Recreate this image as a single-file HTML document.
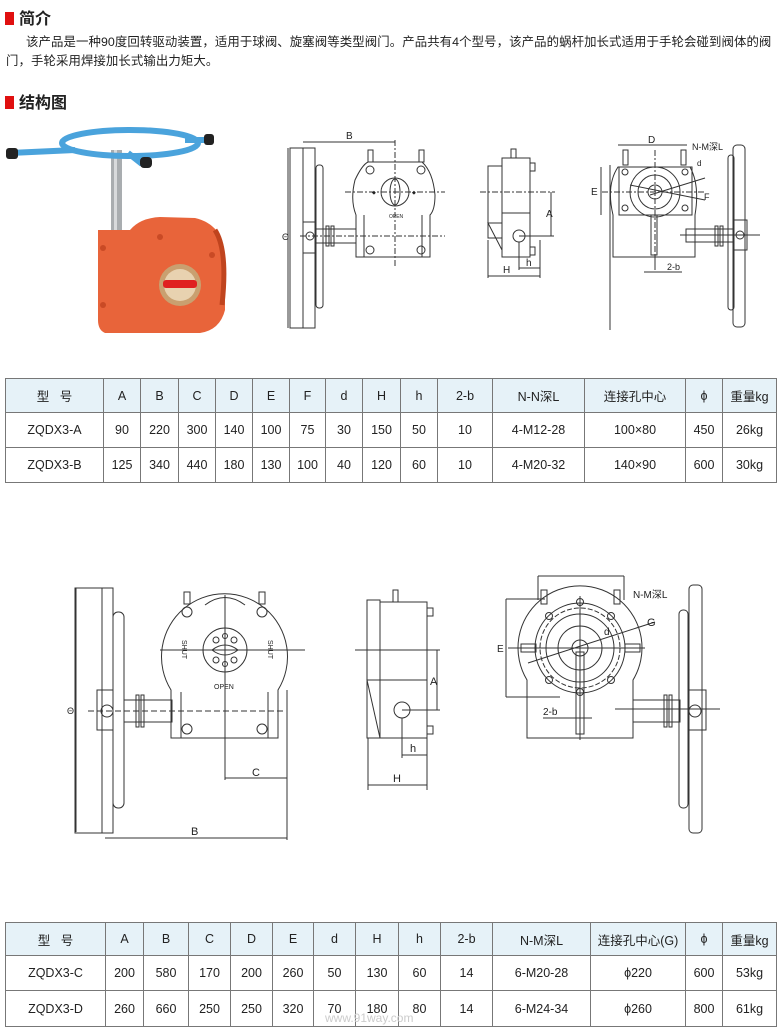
<!DOCTYPE html>
<html><head><meta charset="utf-8"><style>
body{margin:0;background:#fff;width:780px;height:1030px;overflow:hidden;position:relative;font-family:"Liberation Sans","Noto Sans CJK SC",sans-serif;color:#222}
.h{position:absolute;left:5px;font-size:16px;font-weight:bold;}
.h i{display:inline-block;width:9px;height:13px;background:#e01010;margin-right:5px;vertical-align:-1px}
.p{position:absolute;left:6px;top:33px;width:772px;font-size:12.4px;line-height:19px;text-indent:20px;letter-spacing:0.1px}
table{position:absolute;border-collapse:collapse;font-size:12.5px;text-align:center;table-layout:fixed}
td{border:1px solid #777;padding:0;}
tr.hd td{background:#e6f2f8}
svg{position:absolute;left:0;top:0}
</style></head><body>
<div class="h" style="top:5px"><i></i>简介</div>
<div class="p">该产品是一种90度回转驱动装置，适用于球阀、旋塞阀等类型阀门。产品共有4个型号，该产品的蜗杆加长式适用于手轮会碰到阀体的阀门，手轮采用焊接加长式输出力矩大。</div>
<div class="h" style="top:89px"><i></i>结构图</div>

<table style="left:5px;top:378px;width:771px">
<colgroup><col style="width:98px"><col style="width:37px"><col style="width:38px"><col style="width:37px"><col style="width:37px"><col style="width:37px"><col style="width:36px"><col style="width:37px"><col style="width:38px"><col style="width:37px"><col style="width:55px"><col style="width:92px"><col style="width:101px"><col style="width:37px"><col style="width:54px"></colgroup>
<tr class="hd" style="height:34px"><td>型&nbsp;&nbsp;&nbsp;号</td><td>A</td><td>B</td><td>C</td><td>D</td><td>E</td><td>F</td><td>d</td><td>H</td><td>h</td><td>2-b</td><td>N-N深L</td><td>连接孔中心</td><td>ϕ</td><td>重量kg</td></tr>
<tr style="height:35px"><td>ZQDX3-A</td><td>90</td><td>220</td><td>300</td><td>140</td><td>100</td><td>75</td><td>30</td><td>150</td><td>50</td><td>10</td><td>4-M12-28</td><td>100×80</td><td>450</td><td>26kg</td></tr>
<tr style="height:35px"><td>ZQDX3-B</td><td>125</td><td>340</td><td>440</td><td>180</td><td>130</td><td>100</td><td>40</td><td>120</td><td>60</td><td>10</td><td>4-M20-32</td><td>140×90</td><td>600</td><td>30kg</td></tr>
</table>

<table style="left:5px;top:922px;width:771px">
<colgroup><col style="width:100px"><col style="width:38px"><col style="width:45px"><col style="width:42px"><col style="width:42px"><col style="width:41px"><col style="width:42px"><col style="width:43px"><col style="width:42px"><col style="width:52px"><col style="width:98px"><col style="width:95px"><col style="width:37px"><col style="width:54px"></colgroup>
<tr class="hd" style="height:33px"><td>型&nbsp;&nbsp;&nbsp;号</td><td>A</td><td>B</td><td>C</td><td>D</td><td>E</td><td>d</td><td>H</td><td>h</td><td>2-b</td><td>N-M深L</td><td>连接孔中心(G)</td><td>ϕ</td><td>重量kg</td></tr>
<tr style="height:35px"><td>ZQDX3-C</td><td>200</td><td>580</td><td>170</td><td>200</td><td>260</td><td>50</td><td>130</td><td>60</td><td>14</td><td>6-M20-28</td><td>ϕ220</td><td>600</td><td>53kg</td></tr>
<tr style="height:36px"><td>ZQDX3-D</td><td>260</td><td>660</td><td>250</td><td>250</td><td>320</td><td>70</td><td>180</td><td>80</td><td>14</td><td>6-M24-34</td><td>ϕ260</td><td>800</td><td>61kg</td></tr>
</table>

<svg width="780" height="1030" viewBox="0 0 780 1030" font-family="Liberation Sans, sans-serif" font-size="10" fill="none" stroke="#333" stroke-width="1">
<!-- photo -->
<g stroke="none">
<rect x="111" y="150" width="11" height="90" fill="#a9adb0"/>
<rect x="114" y="150" width="3" height="90" fill="#d8dadc"/>
<ellipse cx="130" cy="143" rx="68" ry="13" fill="none" stroke="#4aa3dc" stroke-width="6"/>
<path d="M10 153 L75 150" stroke="#4aa3dc" stroke-width="6"/>
<path d="M185 140 L207 140" stroke="#4aa3dc" stroke-width="6"/>
<path d="M128 153 L142 164" stroke="#4aa3dc" stroke-width="6"/>
<rect x="6" y="148" width="12" height="11" rx="3" fill="#222"/>
<rect x="204" y="134" width="10" height="11" rx="3" fill="#222"/>
<rect x="140" y="157" width="12" height="11" rx="4" fill="#222"/>
<path d="M98 230 L130 230 Q140 218 160 217 L195 218 Q225 225 225 260 L225 310 Q220 330 200 333 L105 333 Q98 330 98 320 Z" fill="#e8643a"/>
<path d="M215 230 Q228 250 222 305" stroke="#c0441e" stroke-width="5"/>
<circle cx="180" cy="285" r="21" fill="#c9a070"/>
<circle cx="180" cy="285" r="16" fill="#e8d2b0"/>
<rect x="163" y="280" width="34" height="8" rx="3" fill="#e02020"/>
<circle cx="103" cy="248" r="3" fill="#c94a25"/><circle cx="103" cy="305" r="3" fill="#c94a25"/><circle cx="160" cy="237" r="3" fill="#c94a25"/><circle cx="212" cy="255" r="3" fill="#c94a25"/>
</g>

<!-- top drawing 1 -->
<rect x="290" y="148" width="25" height="180"/><line x1="303" y1="148" x2="303" y2="328"/>
<rect x="316" y="165" width="7" height="143" rx="3"/>
<rect x="303" y="222" width="13" height="31"/><circle cx="310" cy="236" r="4"/>
<rect x="316" y="229" width="40" height="14"/><rect x="326" y="226" width="3" height="20"/><rect x="331" y="226" width="3" height="20"/>
<path d="M356 257 L356 215 Q350 200 355 180 Q362 165 368 162 L422 162 Q433 172 435 195 Q435 210 430 215 L430 257 Z"/>
<line x1="364" y1="215" x2="364" y2="257"/><line x1="422" y1="215" x2="422" y2="257"/>
<rect x="368" y="150" width="5" height="12"/><rect x="419" y="150" width="5" height="12"/>
<circle cx="370" cy="170" r="4"/><circle cx="421" cy="170" r="4"/><circle cx="370" cy="250" r="4"/><circle cx="421" cy="250" r="4"/>
<ellipse cx="395" cy="192" rx="14" ry="14"/><ellipse cx="395" cy="192" rx="5" ry="13"/>
<line x1="395" y1="140" x2="395" y2="268" stroke-dasharray="6,2,2,2"/>
<line x1="345" y1="192" x2="445" y2="192" stroke-dasharray="6,2,2,2"/>
<line x1="300" y1="236" x2="445" y2="236" stroke-dasharray="6,2,2,2"/>
<line x1="303" y1="142" x2="395" y2="142"/><line x1="288" y1="148" x2="288" y2="328"/>
<text x="346" y="139" fill="#222" stroke="none">B</text>
<text x="282" y="240" fill="#222" stroke="none" font-size="9">Θ</text>
<text x="389" y="218" fill="#222" stroke="none" font-size="5">OPEN</text>
<text x="372" y="194" fill="#222" stroke="none" font-size="5">◆</text><text x="412" y="194" fill="#222" stroke="none" font-size="5">◆</text>

<!-- top drawing 2 -->
<rect x="488" y="166" width="14" height="72"/><path d="M488 223 L502 223 L502 250 Z"/>
<rect x="502" y="158" width="28" height="99"/><line x1="502" y1="213" x2="530" y2="213"/>
<rect x="511" y="149" width="5" height="9"/><rect x="530" y="163" width="5" height="8"/><rect x="530" y="247" width="5" height="8"/>
<line x1="480" y1="192" x2="555" y2="192" stroke-dasharray="6,2,2,2"/>
<circle cx="519" cy="236" r="6"/><line x1="519" y1="236" x2="554" y2="236"/>
<line x1="551" y1="192" x2="551" y2="236"/><text x="546" y="217" fill="#222" stroke="none">A</text>
<line x1="519" y1="242" x2="519" y2="270"/><line x1="540" y1="240" x2="540" y2="278"/><line x1="488" y1="240" x2="488" y2="278"/>
<line x1="519" y1="268" x2="540" y2="268"/><line x1="488" y1="276" x2="540" y2="276"/>
<text x="526" y="266" fill="#222" stroke="none">h</text><text x="503" y="273" fill="#222" stroke="none">H</text>

<!-- top drawing 3 -->
<path d="M613 257 L613 215 Q606 185 618 167 L690 167 Q700 185 695 215 L695 257 Z"/>
<rect x="619" y="167" width="73" height="48"/>
<circle cx="655" cy="192" r="25"/><circle cx="655" cy="192" r="17"/><circle cx="655" cy="192" r="7"/>
<circle cx="625" cy="172" r="3"/><circle cx="685" cy="172" r="3"/><circle cx="625" cy="208" r="3"/><circle cx="685" cy="208" r="3"/>
<rect x="623" y="150" width="5" height="15"/><rect x="681" y="150" width="5" height="15"/>
<rect x="651" y="215" width="6" height="40"/><line x1="655" y1="255" x2="655" y2="270"/>
<line x1="655" y1="150" x2="655" y2="262" stroke-dasharray="6,2,2,2"/><line x1="602" y1="192" x2="705" y2="192" stroke-dasharray="6,2,2,2"/>
<line x1="630" y1="185" x2="705" y2="200"/><line x1="650" y1="195" x2="705" y2="178"/>
<line x1="618" y1="145" x2="687" y2="145"/><text x="648" y="143" fill="#222" stroke="none">D</text>
<line x1="601" y1="167" x2="601" y2="215"/><text x="591" y="195" fill="#222" stroke="none">E</text>
<text x="692" y="150" fill="#222" stroke="none" font-size="9">N-M深L</text><text x="697" y="166" fill="#222" stroke="none" font-size="8">d</text><text x="704" y="200" fill="#222" stroke="none" font-size="9">F</text>
<line x1="644" y1="272" x2="682" y2="272"/><text x="667" y="270" fill="#222" stroke="none" font-size="9">2-b</text>
<line x1="610" y1="165" x2="610" y2="330"/>
<rect x="733" y="145" width="12" height="182" rx="4"/><rect x="728" y="155" width="6" height="155" rx="3"/>
<rect x="733" y="220" width="14" height="30"/><circle cx="740" cy="235" r="4"/>
<rect x="686" y="229" width="47" height="13"/><rect x="715" y="226" width="3" height="20"/><rect x="720" y="226" width="3" height="20"/>
<line x1="680" y1="235" x2="760" y2="235"/>

<!-- bottom drawing 1 -->
<rect x="75" y="588" width="38" height="245"/><line x1="102" y1="588" x2="102" y2="833"/>
<rect x="113" y="612" width="11" height="196" rx="5"/>
<rect x="97" y="690" width="16" height="40"/><circle cx="107" cy="711" r="6"/>
<rect x="124" y="700" width="48" height="22"/><rect x="136" y="695" width="3" height="32"/><rect x="141" y="695" width="3" height="32"/>
<path d="M171 738 L171 690 A63 63 0 1 1 278 690 L278 738 Z"/>
<line x1="181" y1="692" x2="181" y2="738"/><line x1="268" y1="692" x2="268" y2="738"/>
<path d="M205 605 Q225 590 245 605"/>
<rect x="184" y="592" width="6" height="12"/><rect x="259" y="592" width="6" height="12"/>
<circle cx="187" cy="612" r="5"/><circle cx="262" cy="612" r="5"/><circle cx="187" cy="729" r="5"/><circle cx="262" cy="729" r="5"/>
<circle cx="225" cy="650" r="22"/><path d="M212 650 Q225 640 238 650 Q225 660 212 650 Z"/>
<circle cx="216" cy="640" r="3"/><circle cx="234" cy="640" r="3"/><circle cx="216" cy="660" r="3"/><circle cx="234" cy="660" r="3"/><circle cx="225" cy="636" r="2.5"/><circle cx="225" cy="664" r="2.5"/>
<line x1="160" y1="650" x2="305" y2="650"/><line x1="225" y1="595" x2="225" y2="780"/>
<line x1="88" y1="711" x2="285" y2="711" stroke-dasharray="6,3"/>
<line x1="287" y1="690" x2="287" y2="840"/>
<line x1="225" y1="778" x2="287" y2="778"/><text x="252" y="776" fill="#222" stroke="none" font-size="11">C</text>
<line x1="105" y1="838" x2="287" y2="838"/><text x="191" y="835" fill="#222" stroke="none" font-size="11">B</text>
<line x1="76" y1="588" x2="76" y2="832"/><text x="67" y="714" fill="#222" stroke="none" font-size="9">Θ</text>
<text x="182" y="640" fill="#222" stroke="none" font-size="7" transform="rotate(90 182 640)">SHUT</text>
<text x="268" y="640" fill="#222" stroke="none" font-size="7" transform="rotate(90 268 640)">SHUT</text>
<text x="214" y="689" fill="#222" stroke="none" font-size="7">OPEN</text>

<!-- bottom drawing 2 -->
<rect x="367" y="600" width="13" height="138"/><path d="M367 680 L380 680 L380 738 Z"/>
<rect x="380" y="602" width="47" height="136"/><line x1="380" y1="680" x2="427" y2="680"/>
<rect x="393" y="590" width="5" height="12"/><rect x="427" y="608" width="6" height="8"/><rect x="427" y="726" width="6" height="8"/>
<line x1="355" y1="650" x2="440" y2="650"/>
<circle cx="402" cy="710" r="8"/><line x1="402" y1="710" x2="440" y2="710"/>
<line x1="437" y1="650" x2="437" y2="710"/><text x="430" y="685" fill="#222" stroke="none" font-size="11">A</text>
<line x1="402" y1="718" x2="402" y2="758"/><line x1="427" y1="738" x2="427" y2="790"/><line x1="368" y1="738" x2="368" y2="790"/>
<line x1="402" y1="755" x2="427" y2="755"/><line x1="368" y1="785" x2="427" y2="785"/>
<text x="410" y="752" fill="#222" stroke="none" font-size="11">h</text><text x="393" y="782" fill="#222" stroke="none" font-size="11">H</text>

<!-- bottom drawing 3 -->
<path d="M527 738 L527 680 A62 62 0 1 1 633 680 L633 738 Z"/>
<circle cx="580" cy="648" r="45"/><circle cx="580" cy="648" r="40" stroke-dasharray="5,2"/><circle cx="580" cy="648" r="34"/><circle cx="580" cy="648" r="22"/><circle cx="580" cy="648" r="8"/>
<circle cx="580" cy="602" r="3.5"/><circle cx="580" cy="692" r="3.5"/><circle cx="549" cy="616" r="3.5"/><circle cx="611" cy="616" r="3.5"/><circle cx="549" cy="680" r="3.5"/><circle cx="611" cy="680" r="3.5"/>
<rect x="541" y="590" width="6" height="14"/><rect x="614" y="590" width="6" height="14"/>
<rect x="521" y="644" width="15" height="8"/><rect x="625" y="644" width="15" height="8"/>
<rect x="576" y="652" width="8" height="82"/>
<line x1="580" y1="596" x2="580" y2="740"/><line x1="508" y1="648" x2="645" y2="648"/>
<line x1="528" y1="663" x2="655" y2="622"/>
<line x1="538" y1="576" x2="624" y2="576"/><line x1="538" y1="576" x2="538" y2="600"/><line x1="624" y1="576" x2="624" y2="600"/>
<text x="633" y="598" fill="#222" stroke="none" font-size="10">N-M深L</text><text x="647" y="626" fill="#222" stroke="none" font-size="11">G</text><text x="604" y="635" fill="#222" stroke="none" font-size="10">d</text>
<line x1="506" y1="599" x2="506" y2="697"/><line x1="506" y1="599" x2="545" y2="599"/><line x1="506" y1="697" x2="560" y2="697"/>
<text x="497" y="652" fill="#222" stroke="none" font-size="10">E</text>
<line x1="543" y1="718" x2="592" y2="718"/><text x="543" y="715" fill="#222" stroke="none" font-size="10">2-b</text>
<rect x="689" y="585" width="13" height="248" rx="4"/><rect x="679" y="610" width="9" height="198" rx="4"/>
<rect x="689" y="690" width="17" height="40"/><circle cx="695" cy="711" r="6"/>
<rect x="633" y="700" width="47" height="22"/><rect x="664" y="695" width="3" height="32"/><rect x="669" y="695" width="3" height="32"/>
<line x1="615" y1="709" x2="720" y2="709"/>

<text x="325" y="1022" fill="#ccc" stroke="none" font-size="12">www.91way.com</text>
</svg>
</body></html>
